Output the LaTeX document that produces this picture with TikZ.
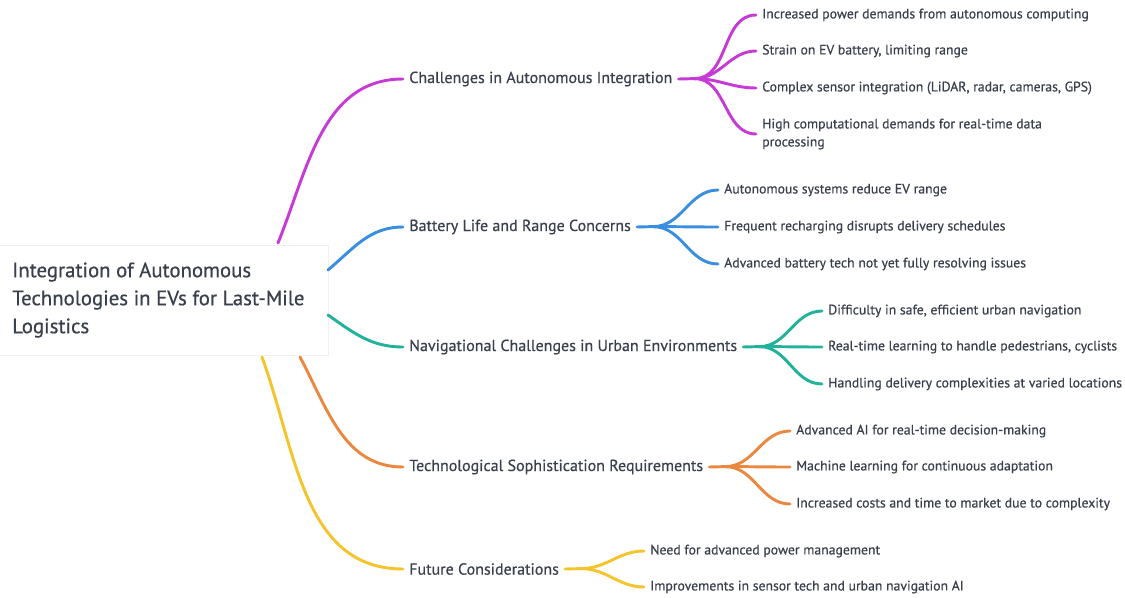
\documentclass[tikz,border=0pt]{standalone}
\usepackage{fontspec}
\setmainfont{PT Sans}[FakeBold=0.6]
\usetikzlibrary{positioning}

\definecolor{txtgray}{HTML}{3A404C}
\definecolor{cpurple}{HTML}{C63BD6}
\definecolor{cblue}{HTML}{3A8EE0}
\definecolor{cteal}{HTML}{22B29C}
\definecolor{corange}{HTML}{EA8840}
\definecolor{cyellow}{HTML}{F4C42C}

\tikzset{
  topic/.style={anchor=west, inner xsep=4.5pt, inner ysep=1pt, text=txtgray,
    font=\fontsize{12}{14}\selectfont},
  leaf/.style={anchor=west, inner xsep=4.5pt, inner ysep=1pt, text=txtgray,
    align=left, font=\fontsize{10.3}{13.5}\selectfont},
  branch/.style={line width=2.2pt, line cap=round}
}

\begin{document}
\begin{tikzpicture}[x=0.75pt, y=-0.75pt]
  \useasboundingbox (0,0) rectangle (1125,597);

  % root
  \fill[white, draw=black!6] (-5,245) rectangle (328,355);
  \node[anchor=west, align=left, text=txtgray, inner sep=0pt,
        font=\fontsize{15.6}{21}\selectfont] (root) at (12,300)
    {Integration of Autonomous\\Technologies in EVs for Last-Mile\\Logistics};
  \coordinate (r1) at (278,243);
  \coordinate (r2) at (328,270);
  \coordinate (r3) at (328,315);
  \coordinate (r4) at (300,357);
  \coordinate (r5) at (262,357);

  % first level
  \begin{scope}[every node/.style={topic}]
    \node (c1) at (403,79)  {Challenges in Autonomous Integration};
    \node (c2) at (403,227) {Battery Life and Range Concerns};
    \node (c3) at (403,347) {Navigational Challenges in Urban Environments};
    \node (c4) at (403,467) {Technological Sophistication Requirements};
    \node (c5) at (403,569) {Future Considerations};
  \end{scope}

  \coordinate[right=12pt of c1, yshift=0.3pt] (j1);
  \coordinate[right=12pt of c2, yshift=0.3pt] (j2);
  \coordinate[right=12pt of c3, yshift=0.3pt] (j3);
  \coordinate[right=12pt of c4, yshift=0.3pt] (j4);
  \coordinate[right=12pt of c5, yshift=0.3pt] (j5);

  % leaves
  \begin{scope}[every node/.style={leaf}]
    \node (c1a) at (756,15)  {Increased power demands from autonomous computing};
    \node (c1b) at (756,51)  {Strain on EV battery, limiting range};
    \node (c1c) at (756,88)  {Complex sensor integration (LiDAR, radar, cameras, GPS)};
    \node (c1d) at (756,134) {High computational demands for real-time data\\processing};

    \node (c2a) at (718,190) {Autonomous systems reduce EV range};
    \node (c2b) at (718,227) {Frequent recharging disrupts delivery schedules};
    \node (c2c) at (718,264) {Advanced battery tech not yet fully resolving issues};

    \node (c3a) at (822,311) {Difficulty in safe, efficient urban navigation};
    \node (c3b) at (822,347) {Real-time learning to handle pedestrians, cyclists};
    \node (c3c) at (822,384) {Handling delivery complexities at varied locations};

    \node (c4a) at (790,431) {Advanced AI for real-time decision-making};
    \node (c4b) at (790,467) {Machine learning for continuous adaptation};
    \node (c4c) at (790,504) {Increased costs and time to market due to complexity};

    \node (c5a) at (644,551) {Need for advanced power management};
    \node (c5b) at (644,587) {Improvements in sensor tech and urban navigation AI};
  \end{scope}

  % root to topics
  \draw[branch, cpurple] (r1) to[out=68, in=180] (c1.west);
  \draw[branch, cblue]   (r2) to[out=40, in=180] (c2.west);
  \draw[branch, cteal]   (r3) to[out=-35, in=180] (c3.west);
  \draw[branch, corange] (r4) to[out=-62, in=180] (c4.west);
  \draw[branch, cyellow] (r5) to[out=-70, in=180] (c5.west);

  % topics to leaves
  \draw[branch, cpurple] (c1.east) -- (j1);
  \foreach \n in {c1a,c1b,c1c,c1d} \draw[branch, cpurple] (j1) to[out=0, in=180] (\n.west);
  \draw[branch, cblue] (c2.east) -- (j2);
  \foreach \n in {c2a,c2b,c2c} \draw[branch, cblue] (j2) to[out=0, in=180] (\n.west);
  \draw[branch, cteal] (c3.east) -- (j3);
  \foreach \n in {c3a,c3b,c3c} \draw[branch, cteal] (j3) to[out=0, in=180] (\n.west);
  \draw[branch, corange] (c4.east) -- (j4);
  \foreach \n in {c4a,c4b,c4c} \draw[branch, corange] (j4) to[out=0, in=180] (\n.west);
  \draw[branch, cyellow] (c5.east) -- (j5);
  \foreach \n in {c5a,c5b} \draw[branch, cyellow] (j5) to[out=0, in=180] (\n.west);
\end{tikzpicture}
\end{document}
